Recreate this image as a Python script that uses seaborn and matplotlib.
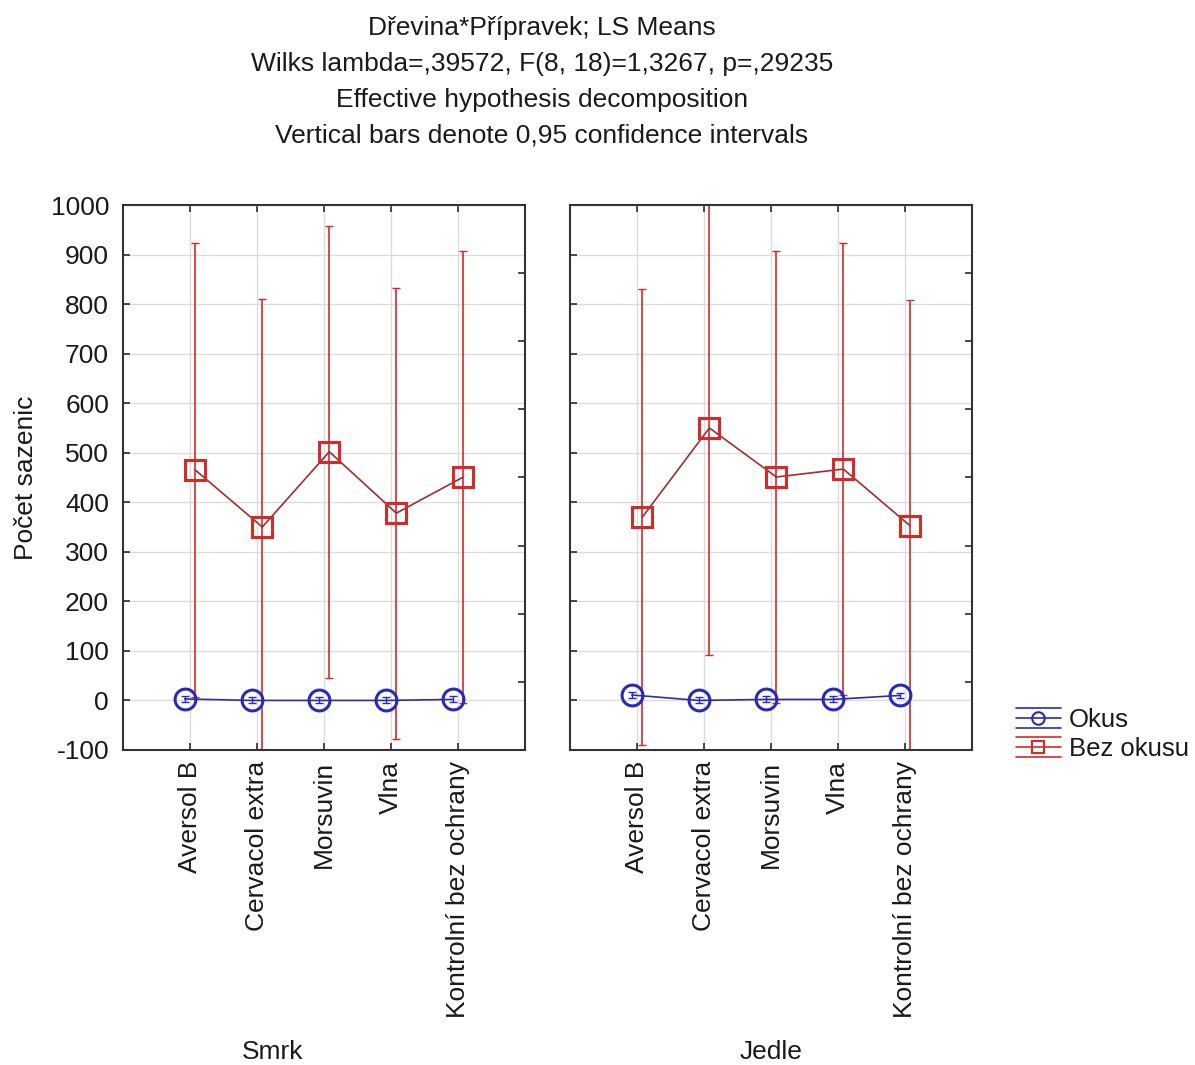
import numpy as np
import pandas as pd
import matplotlib.pyplot as plt
import seaborn as sns
from matplotlib.lines import Line2D
from matplotlib.legend_handler import HandlerBase

# data
pripravky = ['Aversol B', 'Cervacol extra', 'Morsuvin', 'Vlna', 'Kontrolní bez ochrany']
dreviny = ['Smrk', 'Jedle']

# Okus
okus_mean = {'Smrk': [3, 0, 0, 0, 2], 'Jedle': [11, 0, 2, 2, 10]}
okus_ci = {'Smrk': [6, 6, 6, 6, 6], 'Jedle': [6, 6, 6, 6, 6]}
# Bez okusu
bez_mean = {'Smrk': [465, 350, 502, 378, 451], 'Jedle': [370, 550, 451, 467, 352]}
bez_ci = {'Smrk': [458, 461, 456, 455, 456], 'Jedle': [460, 458, 456, 457, 456]}

yticks = list(range(-100, 1001, 100))

sns.set_theme(style='whitegrid')
plt.rcParams['font.family'] = ['Liberation Sans', 'DejaVu Sans']
plt.rcParams['axes.unicode_minus'] = False
txt = '#1a1a1a'
plt.rcParams['text.color'] = txt
plt.rcParams['xtick.color'] = txt
plt.rcParams['ytick.color'] = txt
plt.rcParams['axes.labelcolor'] = txt

blue = '#2a2ab8'
red = '#d42a2a'
fs = 19


class CapHandler(HandlerBase):
    # legend key: line with marker plus horizontal "caps" above and below
    def create_artists(self, legend, orig, xd, yd, width, height, fontsize, trans):
        cy = height / 2 - yd
        col = orig.get_color()
        arts = []
        for dy in (-0.55 * height, 0, 0.55 * height):
            arts.append(Line2D([-xd, width - xd], [cy + dy, cy + dy], color=col,
                               linewidth=1.2, transform=trans))
        arts.append(Line2D([width / 2 - xd], [cy], color=col, marker=orig.get_marker(),
                           markersize=9, markerfacecolor='none', markeredgewidth=1.5,
                           linestyle='none', transform=trans))
        return arts


fig = plt.figure(figsize=(11.95, 10.65), dpi=100)
axes = [fig.add_axes([0.1029, 0.2958, 0.3364, 0.5117]),
        fig.add_axes([0.4770, 0.2958, 0.3364, 0.5117])]

x = np.arange(len(pripravky))
for ax, drev in zip(axes, dreviny):
    df = pd.DataFrame({
        'x': np.concatenate([x - 0.08, x + 0.08]),
        'y': okus_mean[drev] + bez_mean[drev],
        'skupina': ['Okus'] * 5 + ['Bez okusu'] * 5,
    })
    sns.lineplot(data=df, x='x', y='y', hue='skupina', style='skupina',
                 palette={'Okus': '#303090', 'Bez okusu': '#9a3030'},
                 markers={'Okus': 'o', 'Bez okusu': 's'}, dashes=False,
                 markersize=15, markeredgewidth=2.2, markerfacecolor='none',
                 linewidth=1.2, legend=False, ax=ax, zorder=3)
    # marker edge colours
    for line, col in zip(ax.lines, [blue, red]):
        line.set_markeredgecolor(col)
    ax.errorbar(x - 0.08, okus_mean[drev], yerr=okus_ci[drev], fmt='none',
                ecolor=blue, elinewidth=1, capsize=3, zorder=2)
    ax.errorbar(x + 0.08, bez_mean[drev], yerr=bez_ci[drev], fmt='none',
                ecolor=red, elinewidth=1.2, capsize=3, zorder=2)

    ax.set_xlim(-1, 5)
    ax.set_ylim(-100, 1000)
    ax.set_yticks(yticks)
    ax.set_xticks(x)
    ax.set_xticklabels(pripravky, rotation=90, fontsize=fs)
    ax.set_xlabel('')
    ax.set_ylabel('')
    ax.grid(True, color='#dcdcdc', linewidth=1)
    for s in ax.spines.values():
        s.set_color('#333333')
        s.set_linewidth(1.5)
    ax.tick_params(axis='both', direction='in', length=5, color='#333333',
                   top=True, bottom=True, left=True, right=False, labelsize=fs)
    ax.tick_params(axis='x', pad=8)
    ax.tick_params(axis='y', pad=10)
    # right side tick marks (8 equal divisions)
    ax2 = ax.twinx()
    ax2.set_ylim(-100, 1000)
    ax2.set_yticks(np.linspace(-100, 1000, 9)[1:-1])
    ax2.set_yticklabels([])
    ax2.grid(False)
    ax2.tick_params(axis='y', direction='in', length=5, color='#333333')
    for s in ax2.spines.values():
        s.set_visible(False)

axes[0].set_ylabel('Počet sazenic', fontsize=fs, labelpad=9)
axes[1].set_yticklabels([])

fig.text(0.228, 1 - 1052 / 1065, 'Smrk', ha='center', va='center', fontsize=fs)
fig.text(0.645, 1 - 1052 / 1065, 'Jedle', ha='center', va='center', fontsize=fs)

title = ['Dřevina*Přípravek; LS Means',
         'Wilks lambda=,39572, F(8, 18)=1,3267, p=,29235',
         'Effective hypothesis decomposition',
         'Vertical bars denote 0,95 confidence intervals']
for i, t in enumerate(title):
    fig.text(0.4535, 1 - (28 + 36 * i) / 1065, t, ha='center', va='center', fontsize=fs)

handles = [Line2D([], [], color=blue, marker='o'),
           Line2D([], [], color=red, marker='s')]
fig.legend(handles, ['Okus', 'Bez okusu'], loc='upper left',
           bbox_to_anchor=(1016 / 1195, 1 - 708 / 1065), frameon=False, fontsize=18.5,
           handlelength=1.75, handletextpad=0.3, labelspacing=0.2,
           borderpad=0, borderaxespad=0,
           handler_map={Line2D: CapHandler()})

fig.savefig('out.png', dpi=100)
